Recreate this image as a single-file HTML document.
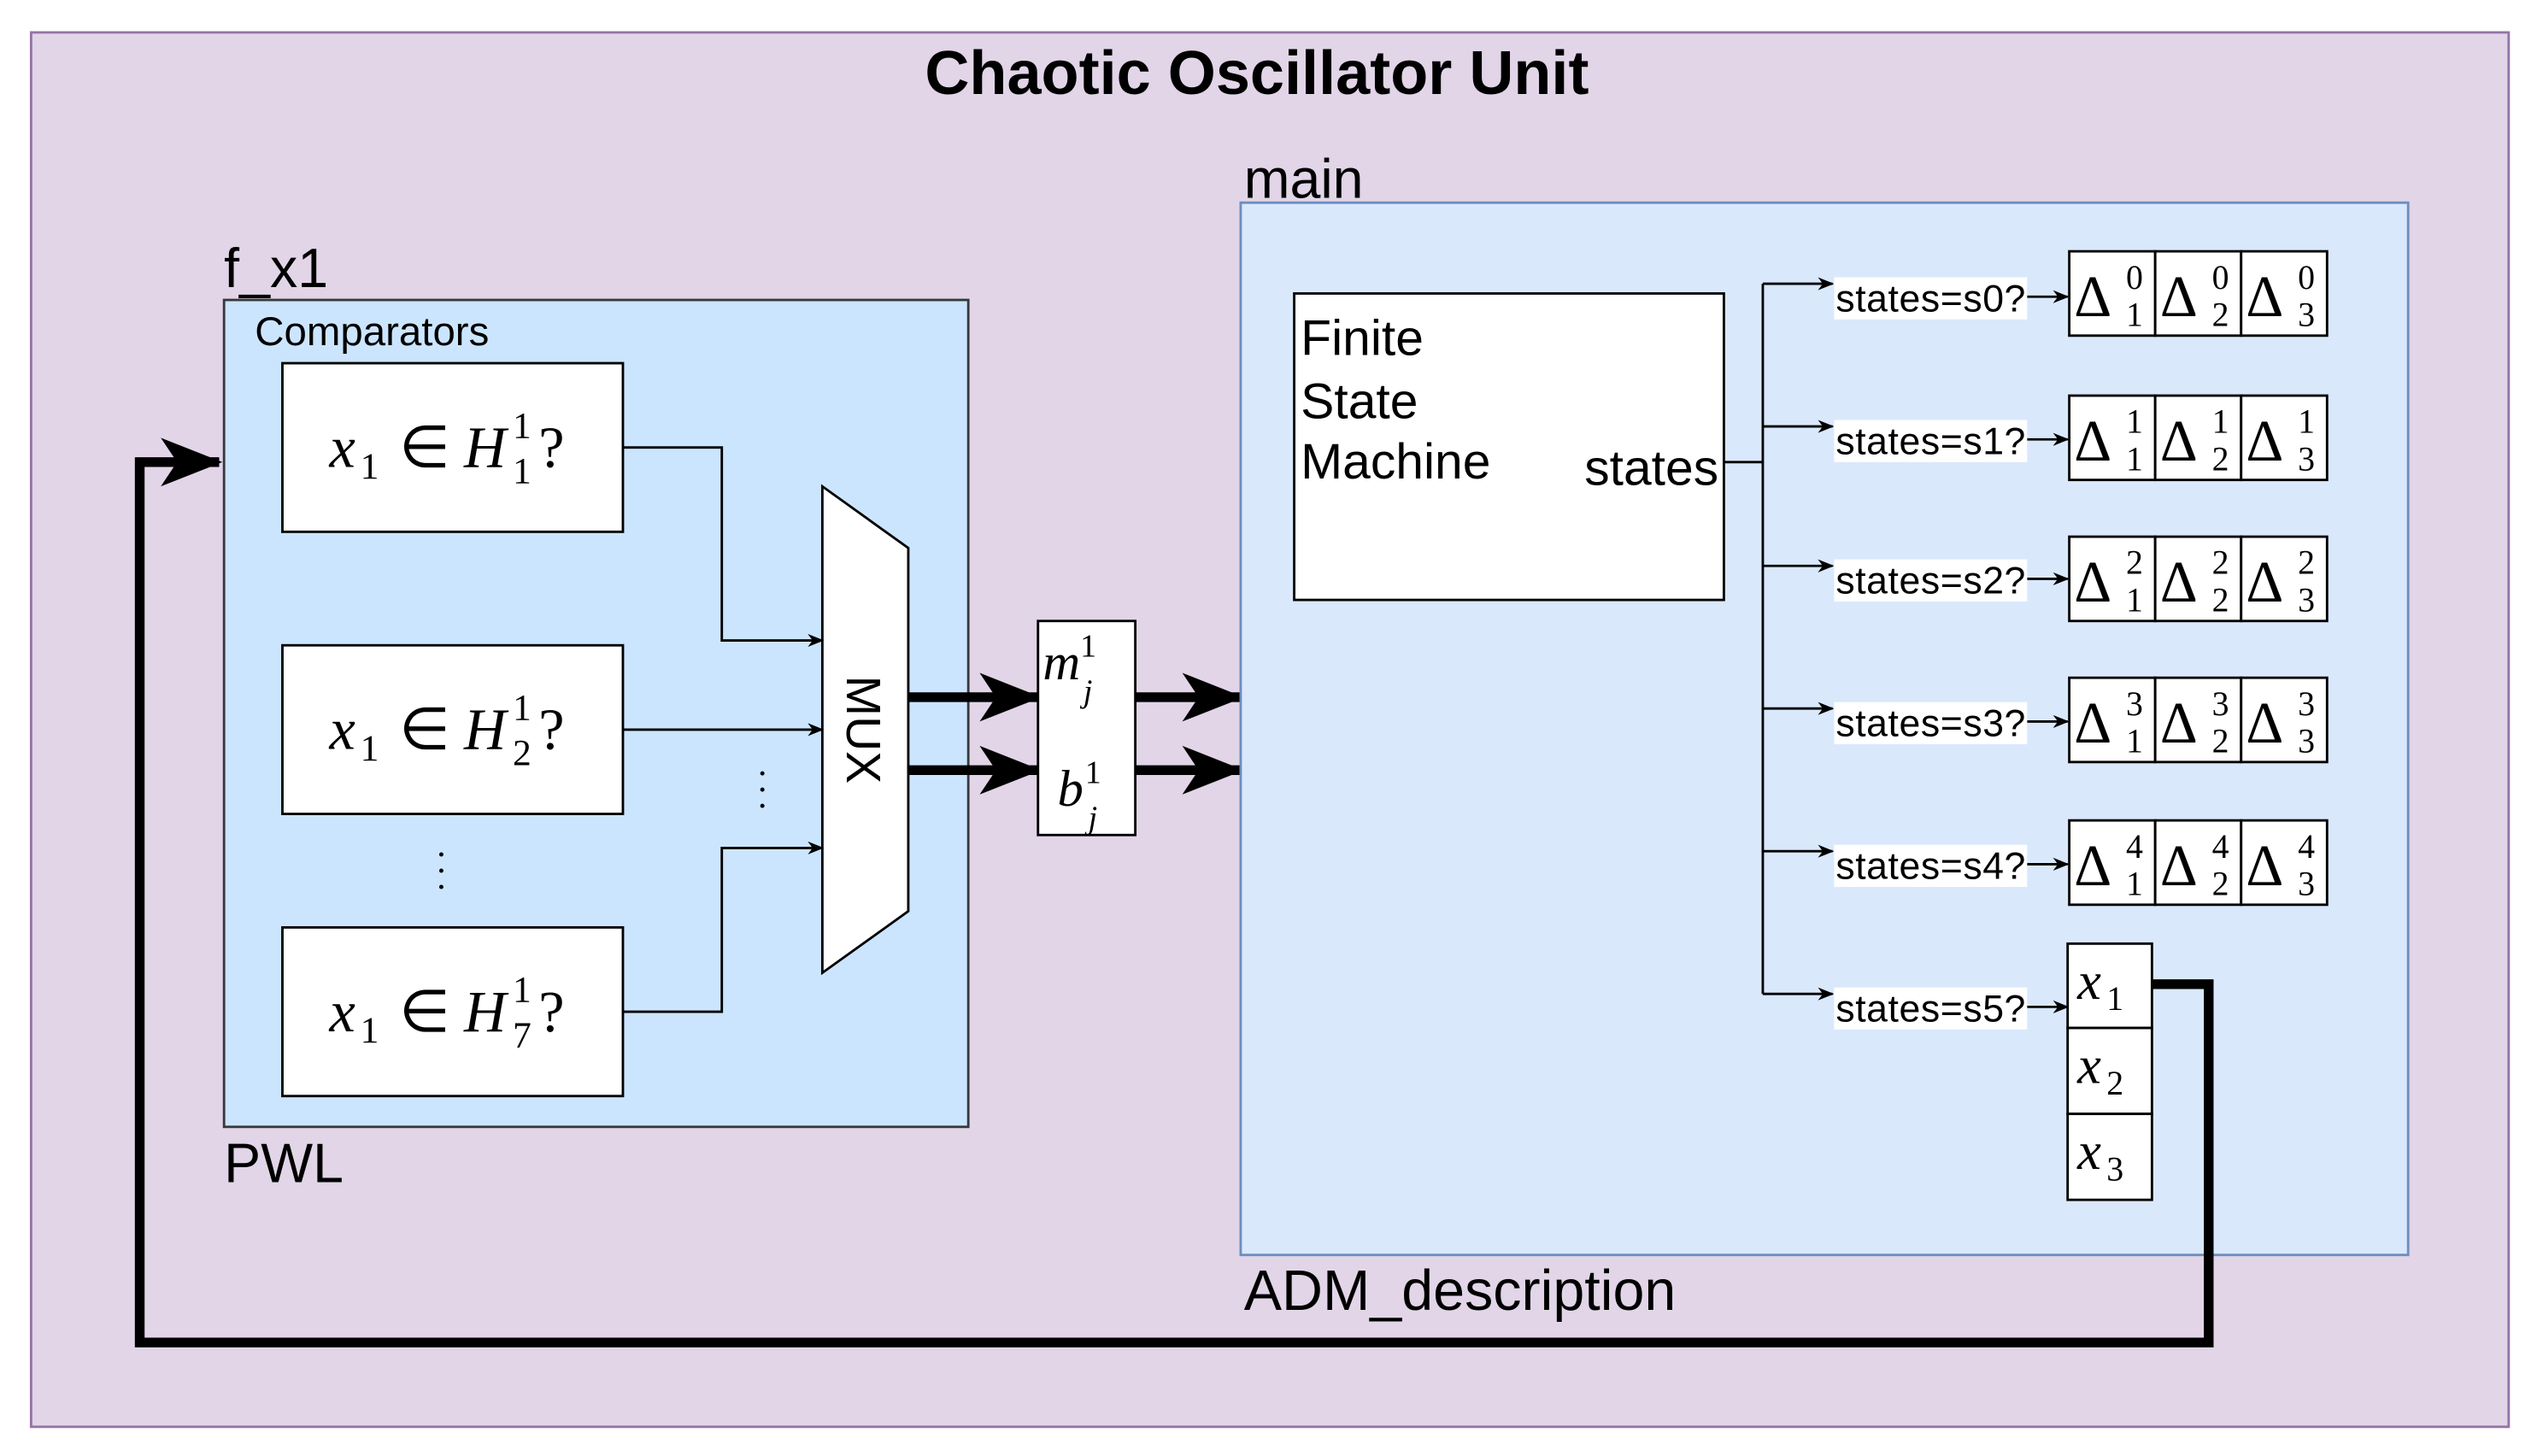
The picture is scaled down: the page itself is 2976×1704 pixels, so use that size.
<!DOCTYPE html>
<html><head><meta charset="utf-8"><style>
html,body{margin:0;padding:0;background:#fff}
svg{display:block}
.s{font-family:"Liberation Sans",sans-serif}
.m{font-family:"Liberation Serif",serif;font-style:italic}
.u{font-family:"Liberation Serif",serif}
</style></head><body>
<svg width="2976" height="1704" viewBox="0 0 1568 898" xmlns="http://www.w3.org/2000/svg">
<defs>
<marker id="a" markerWidth="10" markerHeight="10" refX="9" refY="5" orient="auto" markerUnits="userSpaceOnUse"><path d="M0,1 L10,5 L0,9 L3,5 z" fill="#000"/></marker>
<marker id="A" markerWidth="40" markerHeight="40" refX="36" refY="20" orient="auto" markerUnits="userSpaceOnUse"><path d="M0,5 L38,20 L0,35 L10,20 z" fill="#000"/></marker>
</defs>
<rect x="0" y="0" width="1568" height="898" fill="#fff"/>
<rect x="19" y="20" width="1528" height="860" fill="#e1d5e7" stroke="#9673a6" stroke-width="1.5"/>
<text x="775" y="58" text-anchor="middle" class="s" font-size="38" font-weight="bold">Chaotic Oscillator Unit</text>

<text x="138" y="177" class="s" font-size="34">f_x1</text>
<rect x="138" y="185" width="459" height="510" fill="#cce5ff" stroke="#36393d" stroke-width="1.5"/>
<text x="157" y="213" class="s" font-size="25">Comparators</text>
<text x="138" y="729" class="s" font-size="34">PWL</text>

<g fill="#fff" stroke="#000" stroke-width="1.5">
<rect x="174" y="224" width="210" height="104"/>
<rect x="174" y="398" width="210" height="104"/>
<rect x="174" y="572" width="210" height="104"/>
</g>
<g font-size="36">
<g transform="translate(0,0)">
<text x="203" y="288" class="m">x</text><text x="222" y="295" class="u" font-size="23">1</text><text x="246" y="288" class="u">∈</text><text x="286" y="288" class="m">H</text><text x="316" y="298" class="u" font-size="23">1</text><text x="316" y="270" class="u" font-size="23">1</text><text x="332" y="288" class="u">?</text>
</g>
<g transform="translate(0,174)">
<text x="203" y="288" class="m">x</text><text x="222" y="295" class="u" font-size="23">1</text><text x="246" y="288" class="u">∈</text><text x="286" y="288" class="m">H</text><text x="316" y="298" class="u" font-size="23">2</text><text x="316" y="270" class="u" font-size="23">1</text><text x="332" y="288" class="u">?</text>
</g>
<g transform="translate(0,348)">
<text x="203" y="288" class="m">x</text><text x="222" y="295" class="u" font-size="23">1</text><text x="246" y="288" class="u">∈</text><text x="286" y="288" class="m">H</text><text x="316" y="298" class="u" font-size="23">7</text><text x="316" y="270" class="u" font-size="23">1</text><text x="332" y="288" class="u">?</text>
</g>
</g>
<g fill="#000"><circle cx="272" cy="527" r="1.3"/><circle cx="272" cy="537" r="1.3"/><circle cx="272" cy="547" r="1.3"/>
<circle cx="470" cy="477" r="1.3"/><circle cx="470" cy="487" r="1.3"/><circle cx="470" cy="497" r="1.3"/></g>

<polygon points="507,300 560,338 560,562 507,600" fill="#fff" stroke="#000" stroke-width="1.5"/>
<text transform="translate(522,450) rotate(90)" text-anchor="middle" class="s" font-size="30">MUX</text>

<g fill="none" stroke="#000" stroke-width="1.5" marker-end="url(#a)">
<polyline points="384,276 445,276 445,395 507,395"/>
<polyline points="384,450 507,450"/>
<polyline points="384,624 445,624 445,523 507,523"/>
</g>
<g fill="none" stroke="#000" stroke-width="6" marker-end="url(#A)">
<line x1="560" y1="430" x2="640" y2="430"/>
<line x1="560" y1="475" x2="640" y2="475"/>
<line x1="700" y1="430" x2="765" y2="430"/>
<line x1="700" y1="475" x2="765" y2="475"/>
</g>
<rect x="640" y="383" width="60" height="132" fill="#fff" stroke="#000" stroke-width="1.5"/>
<text x="643" y="419" class="m" font-size="32">m</text><text x="666" y="405" class="u" font-size="20">1</text><text x="668" y="433" class="m" font-size="20">j</text>
<text x="652" y="497" class="m" font-size="32">b</text><text x="669" y="483" class="u" font-size="20">1</text><text x="671" y="511" class="m" font-size="20">j</text>

<text x="767" y="122" class="s" font-size="34">main</text>
<rect x="765" y="125" width="720" height="649" fill="#dae8fc" stroke="#6c8ebf" stroke-width="1.5"/>
<text x="767" y="808" class="s" font-size="35">ADM_description</text>

<rect x="798" y="181" width="265" height="189" fill="#fff" stroke="#000" stroke-width="1.5"/>
<g class="s" font-size="31"><text x="802" y="219">Finite</text><text x="802" y="258">State</text><text x="802" y="295">Machine</text><text x="977" y="299">states</text></g>

<g fill="none" stroke="#000" stroke-width="1.5">
<polyline points="1063,285 1087,285"/>
<line x1="1087" y1="175" x2="1087" y2="613"/>
</g>
<g fill="none" stroke="#000" stroke-width="1.5" marker-end="url(#a)">
<line x1="1087" y1="175" x2="1130" y2="175"/>
<line x1="1087" y1="263" x2="1130" y2="263"/>
<line x1="1087" y1="349" x2="1130" y2="349"/>
<line x1="1087" y1="437" x2="1130" y2="437"/>
<line x1="1087" y1="525" x2="1130" y2="525"/>
<line x1="1087" y1="613" x2="1130" y2="613"/>
<line x1="1250" y1="183" x2="1275" y2="183"/>
<line x1="1250" y1="271" x2="1275" y2="271"/>
<line x1="1250" y1="357" x2="1275" y2="357"/>
<line x1="1250" y1="445" x2="1275" y2="445"/>
<line x1="1250" y1="533" x2="1275" y2="533"/>
<line x1="1250" y1="621" x2="1275" y2="621"/>
</g>
<g fill="#fff">
<rect x="1131" y="171" width="119" height="26"/><rect x="1131" y="259" width="119" height="26"/><rect x="1131" y="345" width="119" height="26"/>
<rect x="1131" y="433" width="119" height="26"/><rect x="1131" y="521" width="119" height="26"/><rect x="1131" y="609" width="119" height="26"/>
</g>
<g class="s" font-size="23.5">
<text x="1132" y="192" textLength="117">states=s0?</text><text x="1132" y="280" textLength="117">states=s1?</text><text x="1132" y="366" textLength="117">states=s2?</text>
<text x="1132" y="454" textLength="117">states=s3?</text><text x="1132" y="542" textLength="117">states=s4?</text><text x="1132" y="630" textLength="117">states=s5?</text>
</g>

<g class="u">
<g transform="translate(0,155)">
<rect x="1276" y="0" width="53" height="52" fill="#fff" stroke="#000" stroke-width="1.5"/><rect x="1329" y="0" width="53" height="52" fill="#fff" stroke="#000" stroke-width="1.5"/><rect x="1382" y="0" width="53" height="52" fill="#fff" stroke="#000" stroke-width="1.5"/>
<text font-size="36"><tspan x="1279" y="40">Δ</tspan><tspan x="1332" y="40">Δ</tspan><tspan x="1385" y="40">Δ</tspan></text>
<text font-size="21"><tspan x="1311" y="46">1</tspan><tspan x="1311" y="23">0</tspan><tspan x="1364" y="46">2</tspan><tspan x="1364" y="23">0</tspan><tspan x="1417" y="46">3</tspan><tspan x="1417" y="23">0</tspan></text>
</g>
<g transform="translate(0,244)">
<rect x="1276" y="0" width="53" height="52" fill="#fff" stroke="#000" stroke-width="1.5"/><rect x="1329" y="0" width="53" height="52" fill="#fff" stroke="#000" stroke-width="1.5"/><rect x="1382" y="0" width="53" height="52" fill="#fff" stroke="#000" stroke-width="1.5"/>
<text font-size="36"><tspan x="1279" y="40">Δ</tspan><tspan x="1332" y="40">Δ</tspan><tspan x="1385" y="40">Δ</tspan></text>
<text font-size="21"><tspan x="1311" y="46">1</tspan><tspan x="1311" y="23">1</tspan><tspan x="1364" y="46">2</tspan><tspan x="1364" y="23">1</tspan><tspan x="1417" y="46">3</tspan><tspan x="1417" y="23">1</tspan></text>
</g>
<g transform="translate(0,331)">
<rect x="1276" y="0" width="53" height="52" fill="#fff" stroke="#000" stroke-width="1.5"/><rect x="1329" y="0" width="53" height="52" fill="#fff" stroke="#000" stroke-width="1.5"/><rect x="1382" y="0" width="53" height="52" fill="#fff" stroke="#000" stroke-width="1.5"/>
<text font-size="36"><tspan x="1279" y="40">Δ</tspan><tspan x="1332" y="40">Δ</tspan><tspan x="1385" y="40">Δ</tspan></text>
<text font-size="21"><tspan x="1311" y="46">1</tspan><tspan x="1311" y="23">2</tspan><tspan x="1364" y="46">2</tspan><tspan x="1364" y="23">2</tspan><tspan x="1417" y="46">3</tspan><tspan x="1417" y="23">2</tspan></text>
</g>
<g transform="translate(0,418)">
<rect x="1276" y="0" width="53" height="52" fill="#fff" stroke="#000" stroke-width="1.5"/><rect x="1329" y="0" width="53" height="52" fill="#fff" stroke="#000" stroke-width="1.5"/><rect x="1382" y="0" width="53" height="52" fill="#fff" stroke="#000" stroke-width="1.5"/>
<text font-size="36"><tspan x="1279" y="40">Δ</tspan><tspan x="1332" y="40">Δ</tspan><tspan x="1385" y="40">Δ</tspan></text>
<text font-size="21"><tspan x="1311" y="46">1</tspan><tspan x="1311" y="23">3</tspan><tspan x="1364" y="46">2</tspan><tspan x="1364" y="23">3</tspan><tspan x="1417" y="46">3</tspan><tspan x="1417" y="23">3</tspan></text>
</g>
<g transform="translate(0,506)">
<rect x="1276" y="0" width="53" height="52" fill="#fff" stroke="#000" stroke-width="1.5"/><rect x="1329" y="0" width="53" height="52" fill="#fff" stroke="#000" stroke-width="1.5"/><rect x="1382" y="0" width="53" height="52" fill="#fff" stroke="#000" stroke-width="1.5"/>
<text font-size="36"><tspan x="1279" y="40">Δ</tspan><tspan x="1332" y="40">Δ</tspan><tspan x="1385" y="40">Δ</tspan></text>
<text font-size="21"><tspan x="1311" y="46">1</tspan><tspan x="1311" y="23">4</tspan><tspan x="1364" y="46">2</tspan><tspan x="1364" y="23">4</tspan><tspan x="1417" y="46">3</tspan><tspan x="1417" y="23">4</tspan></text>
</g>
</g>

<g fill="#fff" stroke="#000" stroke-width="1.5">
<rect x="1275" y="582" width="52" height="52"/><rect x="1275" y="634" width="52" height="53"/><rect x="1275" y="687" width="52" height="53"/>
</g>
<g font-size="33">
<text x="1281" y="616" class="m">x</text><text x="1299" y="623" class="u" font-size="21">1</text>
<text x="1281" y="668" class="m">x</text><text x="1299" y="675" class="u" font-size="21">2</text>
<text x="1281" y="721" class="m">x</text><text x="1299" y="728" class="u" font-size="21">3</text>
</g>

<polyline points="1327,607 1362,607 1362,828 86,828 86,285 135,285" fill="none" stroke="#000" stroke-width="6" marker-end="url(#A)"/>
</svg>
</body></html>
